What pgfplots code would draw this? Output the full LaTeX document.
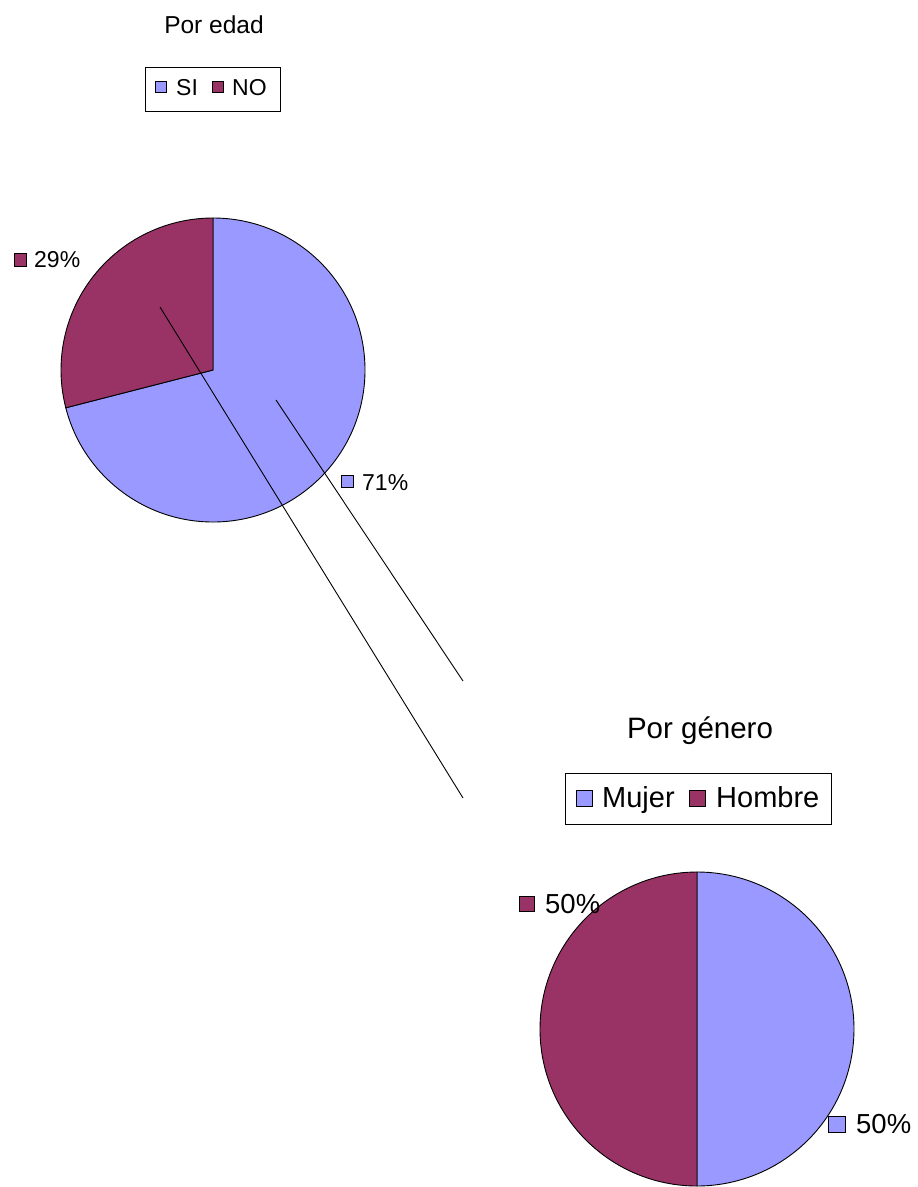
\documentclass[border=0pt]{standalone}
\usepackage{pgfplots}
\pgfplotsset{compat=1.18}
\usepackage{pgfplotstable}
\usepackage{fontspec}
\setmainfont{Liberation Sans}
\definecolor{lila}{HTML}{9999FF}
\definecolor{vino}{HTML}{993366}

% porcentajes de cada grafico
\pgfplotstableread{
label value
SI 71
NO 29
}\edad
\pgfplotstableread{
label value
Mujer 50
Hombre 50
}\genero

\pgfplotstablegetelem{0}{value}\of\edad
\pgfmathsetmacro{\angSI}{-3.6*\pgfplotsretval}
\pgfplotstablegetelem{1}{value}\of\edad
\pgfmathsetmacro{\angNO}{-3.6*\pgfplotsretval}
\pgfplotstablegetelem{0}{value}\of\genero
\pgfmathsetmacro{\angM}{-3.6*\pgfplotsretval}
\pgfplotstablegetelem{1}{value}\of\genero
\pgfmathsetmacro{\angH}{-3.6*\pgfplotsretval}

\newcommand{\fsA}{\fontsize{23}{27}\selectfont}
\newcommand{\fsB}{\fontsize{27.5}{32}\selectfont}

\begin{document}
\begin{tikzpicture}
\begin{axis}[
  x=1pt, y=1pt, y dir=reverse,
  xmin=0, xmax=918, ymin=0, ymax=1187,
  hide axis, clip=false, scale only axis,
]
% marco invisible: fija el tamano de la pagina
\path (axis cs:0,0) rectangle (axis cs:918,1187);

% pastel: por edad
\filldraw[fill=lila, draw=black, line width=0.9pt] (axis cs:213,370) -- ++(90:152pt)
  arc[start angle=90, delta angle=\angSI, radius=152pt] -- cycle;
\filldraw[fill=vino, draw=black, line width=0.9pt] (axis cs:213,370) -- ++(90+\angSI:152pt)
  arc[start angle=90+\angSI, delta angle=\angNO, radius=152pt] -- cycle;

% pastel: por genero
\filldraw[fill=lila, draw=black, line width=0.9pt] (axis cs:697,1029) -- ++(90:157pt)
  arc[start angle=90, delta angle=\angM, radius=157pt] -- cycle;
\filldraw[fill=vino, draw=black, line width=0.9pt] (axis cs:697,1029) -- ++(90+\angM:157pt)
  arc[start angle=90+\angM, delta angle=\angH, radius=157pt] -- cycle;

% lineas de union (encima de los pasteles)
\addplot[black, line width=0.9pt] coordinates {(160,307) (463,798)};
\addplot[black, line width=0.9pt] coordinates {(276,400) (463,681)};

% titulos
\node[anchor=base, inner sep=0pt, font=\fontsize{24.5}{28}\selectfont] at (axis cs:214,33) {Por edad};
\node[anchor=base, inner sep=0pt, font=\fontsize{29.5}{34}\selectfont] at (axis cs:700,738) {Por género};

% leyenda 1
\draw[black, line width=0.9pt, fill=white] (axis cs:145,67) rectangle (axis cs:280,111);
\filldraw[fill=lila, draw=black, line width=0.9pt] (axis cs:155,81) rectangle (axis cs:166,92);
\node[anchor=base west, inner sep=0pt, font=\fsA] at (axis cs:176,95) {SI};
\filldraw[fill=vino, draw=black, line width=0.9pt] (axis cs:212,81) rectangle (axis cs:223,92);
\node[anchor=base west, inner sep=0pt, font=\fsA] at (axis cs:232,95) {NO};

% leyenda 2
\draw[black, line width=0.9pt, fill=white] (axis cs:565,773) rectangle (axis cs:831,824);
\filldraw[fill=lila, draw=black, line width=0.9pt] (axis cs:576,790) rectangle (axis cs:592,806);
\node[anchor=base west, inner sep=0pt, font=\fontsize{29}{33}\selectfont] at (axis cs:602,807) {Mujer};
\filldraw[fill=vino, draw=black, line width=0.9pt] (axis cs:689,790) rectangle (axis cs:705,806);
\node[anchor=base west, inner sep=0pt, font=\fontsize{29}{33}\selectfont] at (axis cs:716,807) {Hombre};

% etiquetas de datos
\filldraw[fill=vino, draw=black, line width=0.9pt] (axis cs:14,253) rectangle (axis cs:26,266);
\node[anchor=base west, inner sep=0pt, font=\fsA] at (axis cs:34,267) {29\%};
\filldraw[fill=lila, draw=black, line width=0.9pt] (axis cs:341,475) rectangle (axis cs:353,487);
\node[anchor=base west, inner sep=0pt, font=\fsA] at (axis cs:362,490) {71\%};
\filldraw[fill=vino, draw=black, line width=0.9pt] (axis cs:519,896) rectangle (axis cs:534,911);
\node[anchor=base west, inner sep=0pt, font=\fsB] at (axis cs:545,913) {50\%};
\filldraw[fill=lila, draw=black, line width=0.9pt] (axis cs:828,1116) rectangle (axis cs:845,1132);
\node[anchor=base west, inner sep=0pt, font=\fsB] at (axis cs:856,1133) {50\%};
\end{axis}
\end{tikzpicture}
\end{document}
